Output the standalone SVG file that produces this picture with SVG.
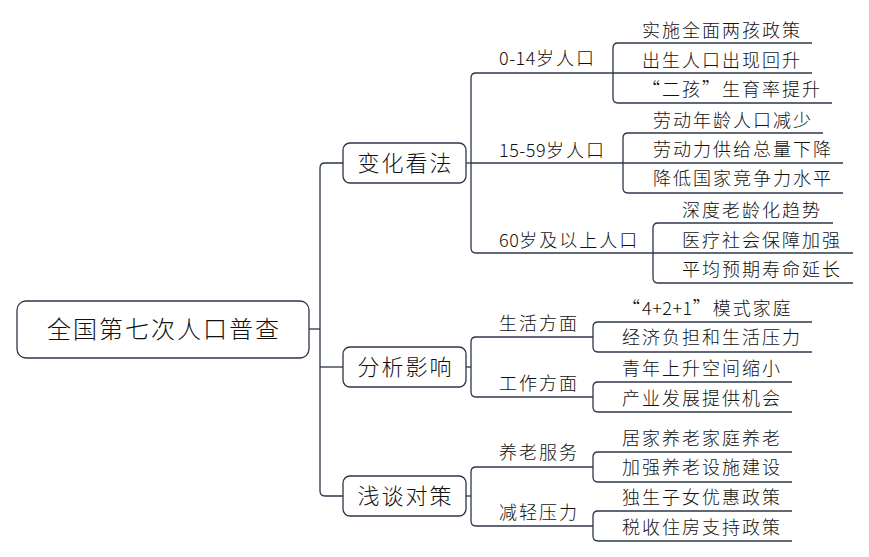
<svg xmlns="http://www.w3.org/2000/svg" width="869" height="557" viewBox="0 0 869 557">
<style>
.ln{fill:none;stroke:#2d3648;stroke-width:1.3;stroke-linecap:butt}
.box{fill:#fff;stroke:#2d3648;stroke-width:1.3}
.t{font-family:"Noto Sans CJK SC","Liberation Sans",sans-serif;font-size:18px;letter-spacing:2px;fill:#111;font-weight:300}
.t1{font-family:"Noto Sans CJK SC","Liberation Sans",sans-serif;font-size:22px;letter-spacing:2px;fill:#111;text-anchor:middle;font-weight:300}
.t0{font-family:"Noto Sans CJK SC","Liberation Sans",sans-serif;font-size:24px;letter-spacing:2px;fill:#111;text-anchor:middle;font-weight:300}
.d{letter-spacing:0.5px}
</style>
<rect width="869" height="557" fill="#fff"/>
<g id="connectors" class="ln">
<path d="M309,329 H320"/>
<path d="M343,163 H325 Q320,163 320,168 V491 Q320,496 325,496 H343"/>
<path d="M320,367 H343"/>
<path d="M466,163 H471"/>
<path d="M476,73 Q471,73 471,78 V248 Q471,253 476,253"/>
<path d="M466,367 H471"/>
<path d="M476,337 Q471,337 471,342 V392 Q471,397 476,397"/>
<path d="M466,496 H471"/>
<path d="M476,467 Q471,467 471,472 V521 Q471,526 476,526"/>
<path d="M618,43 Q613,43 613,48 V98 Q613,103 618,103"/>
<path d="M628,133 Q623,133 623,138 V188 Q623,193 628,193"/>
<path d="M658,223 Q653,223 653,228 V278 Q653,283 658,283"/>
<path d="M598,322 Q593,322 593,327 V347 Q593,352 598,352"/>
<path d="M598,382 Q593,382 593,387 V407 Q593,412 598,412"/>
<path d="M598,452 Q593,452 593,457 V477 Q593,482 598,482"/>
<path d="M598,511 Q593,511 593,516 V536 Q593,541 598,541"/>
</g>
<g id="root"><rect class="box" x="17" y="301" width="292" height="57" rx="9"/><text class="t0" x="164" y="337.5">全国第七次人口普查</text></g>
<g id="n-bhkf"><rect class="box" x="343" y="143" width="123" height="40" rx="7"/><text class="t1" x="405.5" y="171">变化看法</text></g>
<g id="n-fxyx"><rect class="box" x="343" y="347" width="123" height="40" rx="7"/><text class="t1" x="405.5" y="375">分析影响</text></g>
<g id="n-qtdc"><rect class="box" x="343" y="476" width="123" height="40" rx="7"/><text class="t1" x="405.5" y="504">浅谈对策</text></g>
<g id="n-014"><text class="t" x="499" y="64.5"><tspan class="d">0-14</tspan>岁人口</text><path class="ln" d="M476,73 H613"/></g>
<g id="n-1559"><text class="t" x="499" y="156.5"><tspan class="d">15-59</tspan>岁人口</text><path class="ln" d="M471,163 H623"/></g>
<g id="n-60"><text class="t" x="499" y="246.5"><tspan class="d">60</tspan>岁及以上人口</text><path class="ln" d="M476,253 H653"/></g>
<g id="n-a1"><text class="t" x="642" y="36.5">实施全面两孩政策</text><path class="ln" d="M618,43 H812"/></g>
<g id="n-a2"><text class="t" x="642" y="66.5">出生人口出现回升</text><path class="ln" d="M613,73 H812"/></g>
<g id="n-a3"><text class="t" x="642" y="95.5">“二孩”生育率提升</text><path class="ln" d="M618,103 H832"/></g>
<g id="n-b1"><text class="t" x="653" y="126.5">劳动年龄人口减少</text><path class="ln" d="M628,133 H823"/></g>
<g id="n-b2"><text class="t" x="653" y="155.5">劳动力供给总量下降</text><path class="ln" d="M623,163 H843"/></g>
<g id="n-b3"><text class="t" x="653" y="184.5">降低国家竞争力水平</text><path class="ln" d="M628,193 H843"/></g>
<g id="n-c1"><text class="t" x="682" y="216.5">深度老龄化趋势</text><path class="ln" d="M658,223 H833"/></g>
<g id="n-c2"><text class="t" x="682" y="246.5">医疗社会保障加强</text><path class="ln" d="M653,253 H853"/></g>
<g id="n-c3"><text class="t" x="682" y="275.5">平均预期寿命延长</text><path class="ln" d="M658,283 H853"/></g>
<g id="n-shfm"><text class="t" x="499" y="329.5">生活方面</text><path class="ln" d="M476,337 H593"/></g>
<g id="n-gzfm"><text class="t" x="499" y="389.5">工作方面</text><path class="ln" d="M476,397 H593"/></g>
<g id="n-d1"><text class="t" x="622" y="314.5">“<tspan class="d">4+2+1</tspan>”模式家庭</text><path class="ln" d="M598,322 H812"/></g>
<g id="n-d2"><text class="t" x="622" y="343.5">经济负担和生活压力</text><path class="ln" d="M598,352 H812"/></g>
<g id="n-e1"><text class="t" x="622" y="374.5">青年上升空间缩小</text><path class="ln" d="M598,382 H792"/></g>
<g id="n-e2"><text class="t" x="622" y="404.5">产业发展提供机会</text><path class="ln" d="M598,412 H792"/></g>
<g id="n-ylfw"><text class="t" x="499" y="458.5">养老服务</text><path class="ln" d="M476,467 H593"/></g>
<g id="n-jqyl"><text class="t" x="499" y="518.5">减轻压力</text><path class="ln" d="M476,526 H593"/></g>
<g id="n-f1"><text class="t" x="622" y="444.5">居家养老家庭养老</text><path class="ln" d="M598,452 H792"/></g>
<g id="n-f2"><text class="t" x="622" y="473.5">加强养老设施建设</text><path class="ln" d="M598,482 H792"/></g>
<g id="n-g1"><text class="t" x="622" y="503.5">独生子女优惠政策</text><path class="ln" d="M598,511 H792"/></g>
<g id="n-g2"><text class="t" x="622" y="533.5">税收住房支持政策</text><path class="ln" d="M598,541 H792"/></g>
</svg>
